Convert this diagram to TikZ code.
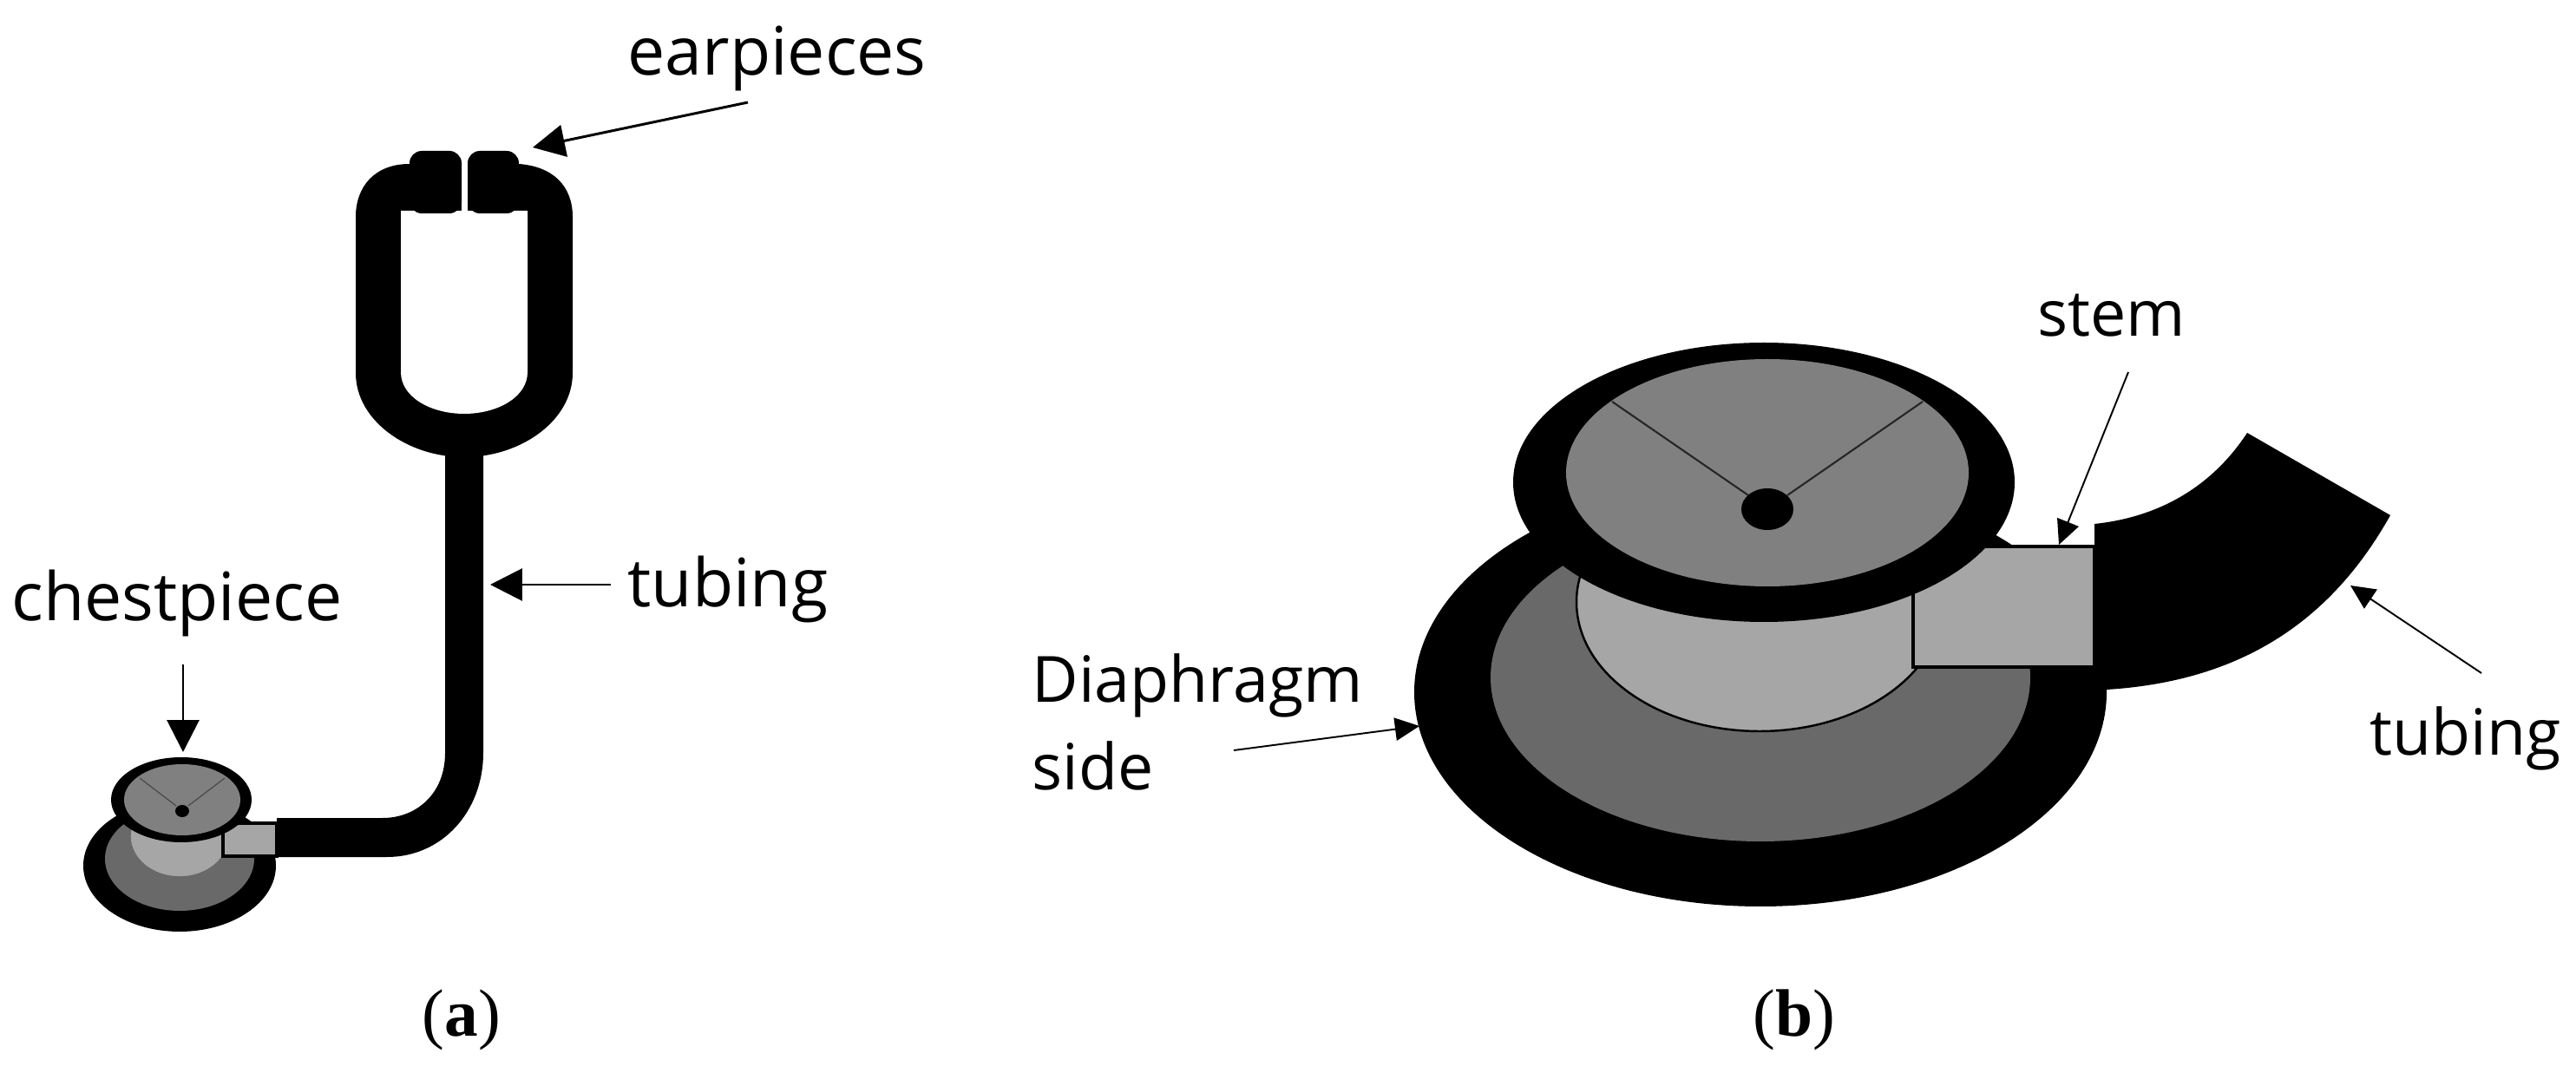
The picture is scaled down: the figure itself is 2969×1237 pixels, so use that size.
\documentclass[tikz,border=0pt]{standalone}
\usepackage{fontspec}
\setmainfont{Open Sans}
\newfontfamily\capfont{Liberation Serif}
\usetikzlibrary{arrows.meta}
\definecolor{dkgray}{HTML}{696969}
\definecolor{mdgray}{HTML}{808080}
\definecolor{ltgray}{HTML}{A6A6A6}
\tikzset{
  lbl/.style={inner sep=0pt,font=\fontsize{20.9}{24}\selectfont,anchor=base west},
  lblA/.style={inner sep=0pt,font=\fontsize{21.9}{24}\selectfont,anchor=base west},
  capt/.style={inner sep=0pt,font=\capfont\fontsize{22}{24}\selectfont,anchor=base},
  bigarrow/.style={line width=0.85pt,-{Triangle[length=10.5pt,width=10.5pt]},shorten >=0pt},
  smallarrow/.style={line width=0.55pt,-{Triangle[length=8pt,width=7.5pt]}},
}
\begin{document}
\begin{tikzpicture}[x=0.01cm,y=-0.01cm]
\useasboundingbox (0,0) rectangle (2969,1237);
% ---------- (a) tube and earpieces
\fill[black] (472,189) .. controls (432,189) and (410,215) .. (410,250)
  -- (410,430) .. controls (410,485) and (470,527) .. (535,527)
  .. controls (600,527) and (660,485) .. (660,430)
  -- (660,250) .. controls (660,215) and (638,192) .. (598,189) -- cycle;
\fill[white] (462,243) -- (462,429) .. controls (462,458) and (497,477) .. (535,477)
  .. controls (573,477) and (608,458) .. (608,429) -- (608,243) -- cycle;
\fill[white] (532,170) rectangle (539,246);
\fill[black,rounded corners=4pt] (472,174) rectangle (532,246);
\fill[black,rounded corners=4pt] (539,174) rectangle (598,246);
\fill[black] (513,520) -- (513,868) .. controls (513,915) and (480,943) .. (441,943)
  -- (319,943) -- (319,988) -- (446,988) .. controls (510,988) and (557,935) .. (557,868)
  -- (557,520) -- cycle;
% ---------- (a) chestpiece
\fill[black] (207,998) ellipse [x radius=111,y radius=76];
\fill[dkgray] (207,990) ellipse [x radius=86,y radius=60];
\filldraw[fill=ltgray,draw=dkgray,line width=0.4pt] (207,964) ellipse [x radius=57,y radius=47];
\filldraw[fill=ltgray,draw=black,line width=1pt] (257,949) rectangle (319,987);
\fill[black] (209,922) ellipse [x radius=81,y radius=49];
\fill[mdgray] (210,922) ellipse [x radius=67,y radius=41];
\draw[dkgray!70!black,line width=0.35pt] (161,897) -- (203,929) (259,897) -- (217,929);
\fill[black] (210,935) ellipse [x radius=8,y radius=7];
% ---------- (a) labels
\node[lblA] (ear) at (723,87) {earpieces};
\node[lblA] (tubA) at (723,700) {tubing};
\node[lblA] (chest) at (13,716) {chestpiece};
\node[capt] (capA) at (532,1194) {(\textbf{a})};
\coordinate (earTail) at (862,118);
\coordinate (earTip) at (614,170);
\coordinate (tubATail) at (704,674);
\coordinate (tubATip) at (565,674);
\coordinate (chestTail) at (211,766);
\coordinate (chestTip) at (211,867);
\draw[bigarrow] (earTail) -- (earTip);
\draw[bigarrow] (tubATail) -- (tubATip);
\draw[bigarrow] (chestTail) -- (chestTip);
% ---------- (b) chestpiece
\fill[black] (2029,798) ellipse [x radius=399,y radius=247];
\fill[dkgray] (2029,781) ellipse [x radius=311,y radius=189];
\filldraw[fill=ltgray,draw=black,line width=0.7pt] (2028,694) ellipse [x radius=211,y radius=149];
\fill[black] (2414,604) .. controls (2490,596) and (2550,560) .. (2590,499)
  -- (2755,594) .. controls (2690,710) and (2590,785) .. (2428,795) -- (2414,795) -- cycle;
\filldraw[fill=ltgray,draw=black,line width=1.1pt] (2205,630) rectangle (2414,769);
\fill[black] (2033,556) ellipse [x radius=289,y radius=161];
\fill[mdgray] (2037,545) ellipse [x radius=232,y radius=131];
\draw[black!85,line width=0.6pt] (1858,463) -- (2015,571) (2216,463) -- (2060,571);
\fill[black] (2037,587) ellipse [x radius=30,y radius=24];
% ---------- (b) labels
\node[lbl] (stem) at (2348,388) {stem};
\node[lbl] (tubB) at (2731,870) {tubing};
\node[lbl] (dia1) at (1189,810) {Diaphragm};
\node[lbl] (dia2) at (1189,910) {side};
\node[capt] (capB) at (2068,1194) {(\textbf{b})};
\coordinate (stemTail) at (2453,429);
\coordinate (stemTip) at (2373,628);
\coordinate (tubBTail) at (2860,776);
\coordinate (tubBTip) at (2709,675);
\coordinate (diaTail) at (1422,865);
\coordinate (diaTip) at (1636,837);
\draw[smallarrow] (stemTail) -- (stemTip);
\draw[smallarrow] (tubBTail) -- (tubBTip);
\draw[smallarrow] (diaTail) -- (diaTip);
\end{tikzpicture}
\end{document}
